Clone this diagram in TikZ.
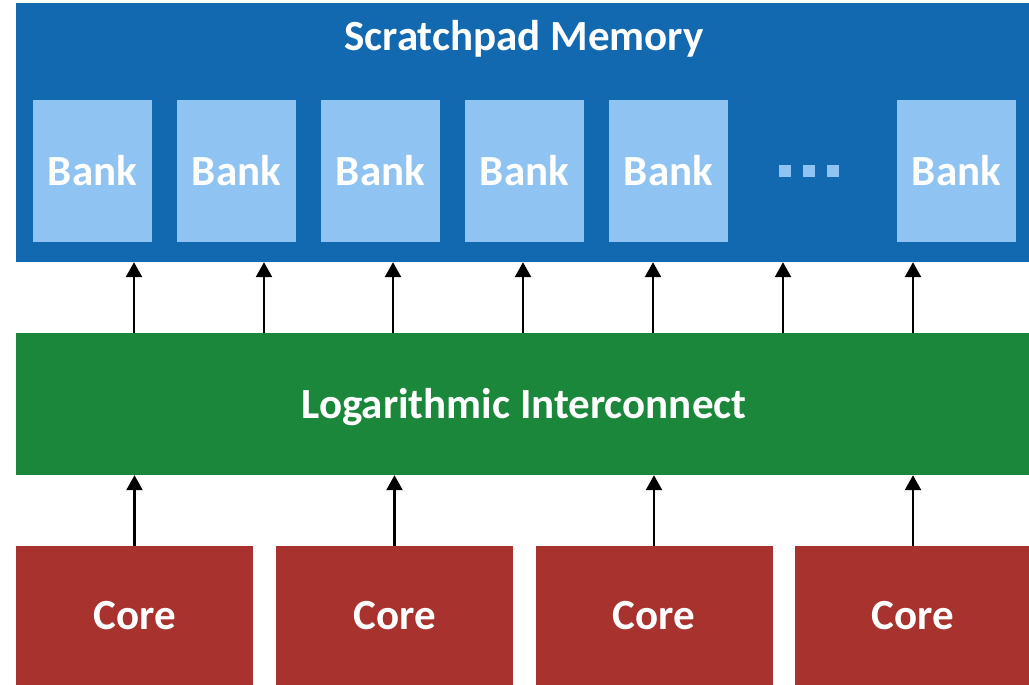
\documentclass[tikz,border=0pt]{standalone}
\usepackage{fontspec}
\setmainfont{Carlito}
\usetikzlibrary{arrows.meta}

\definecolor{spmblue}{HTML}{1369B0}
\definecolor{bankblue}{HTML}{8FC3F2}
\definecolor{icgreen}{HTML}{1A873A}
\definecolor{corered}{HTML}{A7322E}

\tikzset{
  blk/.style={rectangle, inner sep=0pt, text=white, font=\fontsize{43}{46}\selectfont\bfseries},
  bank/.style={blk, fill=bankblue, minimum width=119pt, minimum height=142pt},
  core/.style={blk, fill=corered, minimum width=237pt, minimum height=139pt},
  link/.style={-{Triangle[length=15pt,width=16pt]}, line width=2.5pt},
}

\begin{document}
\begin{tikzpicture}[x=1pt,y=-1pt]
\useasboundingbox (0,0) rectangle (1029,685);

% Scratchpad memory with its banks
\node[blk, fill=spmblue, minimum width=1013pt, minimum height=259pt] (spm) at (522.5,132.5) {};
\node[blk] (spmlabel) at (524,39) {Scratchpad Memory};
\node[bank] (b1) at (92.5,171) {Bank};
\node[bank] (b2) at (236.5,171) {Bank};
\node[bank] (b3) at (380.5,171) {Bank};
\node[bank] (b4) at (524.5,171) {Bank};
\node[bank] (b5) at (668.5,171) {Bank};
\node[bank] (bn) at (956.5,171) {Bank};

% dots between banks
\foreach \x in {785,809,833}
  \fill[bankblue] (\x-6,165) rectangle (\x+6,177);

% Interconnect
\node[blk, fill=icgreen, minimum width=1013pt, minimum height=142pt] (ic) at (522.5,404) {};
\node[blk] (iclabel) at (524,407) {Logarithmic Interconnect};

% Cores
\node[core] (c1) at (134.5,615.5) {Core};
\node[core] (c2) at (394.5,615.5) {Core};
\node[core] (c3) at (654,615.5) {Core};
\node[core] (c4) at (913,615.5) {Core};

% Interconnect -> memory
\foreach \x [count=\i] in {134,264,393,523,653,783,913} {
  \coordinate (t\i) at (\x,0);
  \draw[link] (ic.north -| t\i) -- (spm.south -| t\i);
}

% Cores -> interconnect
\foreach \c in {c1,c2,c3,c4}
  \draw[link] (\c.north) -- (ic.south -| \c.north);

\end{tikzpicture}
\end{document}
